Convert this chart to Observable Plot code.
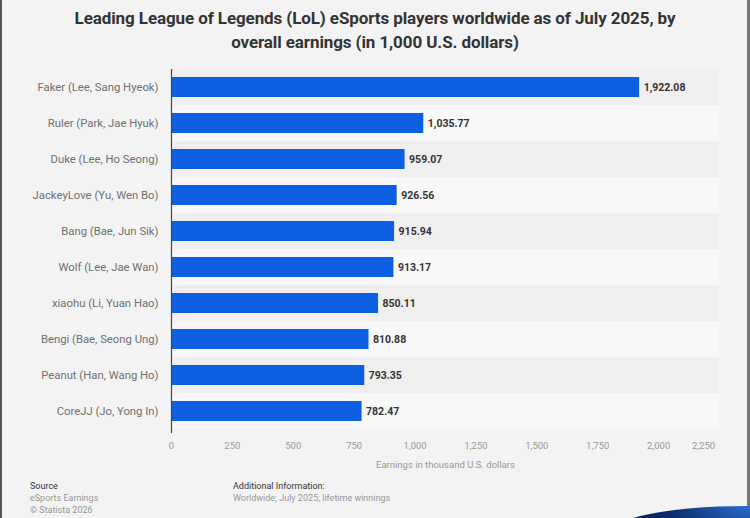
<!DOCTYPE html>
<html>
<head>
<meta charset="utf-8">
<script src="https://cdn.jsdelivr.net/npm/d3@7"></script>
<script src="https://cdn.jsdelivr.net/npm/@observablehq/plot@0.6"></script>
<style>
  html, body { margin: 0; padding: 0; }
  body { width: 750px; height: 518px; background: #f3f3f3; position: relative; overflow: hidden; font-family: Roboto, "Liberation Sans", sans-serif; }
  #frameL { position: absolute; left: 0; top: 0; width: 2px; height: 518px; background: #555; }
  #frameR { position: absolute; left: 747px; top: 0; width: 3px; height: 518px; background: #777; }
  #title { position: absolute; left: 0; top: 6px; width: 750px; text-align: center; font-size: 17px; font-weight: bold; color: #333; line-height: 24px; letter-spacing: -0.1px; }
  #chart { position: absolute; left: 0; top: 60px; }
  .foot { position: absolute; font-size: 9px; line-height: 12px; color: #999; }
  .foot b { color: #333; font-weight: normal; }
  #deco { position: absolute; left: 605px; top: 506px; width: 240px; height: 60px; background: radial-gradient(ellipse at 60% 0%, #2a6fd0 0%, #0b2a6a 40%, #061a45 100%); border-top-left-radius: 140px 30px; }
</style>
</head>
<body>
<div id="frameL"></div>
<div id="frameR"></div>
<div id="title">Leading League of Legends (LoL) eSports players worldwide as of July 2025, by<br>overall earnings (in 1,000 U.S. dollars)</div>
<div id="chart"></div>
<div class="foot" style="left:30px; top:480px;"><b>Source</b><br>eSports Earnings<br>© Statista 2026</div>
<div class="foot" style="left:233px; top:480px;"><b>Additional Information:</b><br>Worldwide; July 2025; lifetime winnings</div>
<div id="deco"></div>
<script>
const players = [
  "Faker (Lee, Sang Hyeok)",
  "Ruler (Park, Jae Hyuk)",
  "Duke (Lee, Ho Seong)",
  "JackeyLove (Yu, Wen Bo)",
  "Bang (Bae, Jun Sik)",
  "Wolf (Lee, Jae Wan)",
  "xiaohu (Li, Yuan Hao)",
  "Bengi (Bae, Seong Ung)",
  "Peanut (Han, Wang Ho)",
  "CoreJJ (Jo, Yong In)"
];
const earnings = [1922.08, 1035.77, 959.07, 926.56, 915.94, 913.17, 850.11, 810.88, 793.35, 782.47];
const xTicks = [0, 250, 500, 750, 1000, 1250, 1500, 1750, 2000, 2250];
const xMax = 2250;
const xLabel = "Earnings in thousand U.S. dollars";

const data = players.map((name, i) => ({name, value: earnings[i], i}));

const height = 412, marginTop = 9, marginBottom = 43;
const step = (height - marginTop - marginBottom) / (players.length);
const padInner = 0.44;
const inset = -(step * padInner) / 2;

const fmt = d3.format(",.2f");
const tfmt = d3.format(",");

const chart = Plot.plot({
  width: 750,
  height,
  marginLeft: 171,
  marginRight: 31,
  marginTop,
  marginBottom,
  style: { background: "transparent", fontFamily: "Roboto, 'Liberation Sans', sans-serif", overflow: "visible" },
  x: { domain: [0, xMax], axis: null },
  y: { domain: players, paddingInner: padInner, paddingOuter: padInner / 2, axis: null },
  marks: [
    Plot.barX(data, { x1: 0, x2: xMax, y: "name", fill: d => d.i % 2 === 0 ? "#efefef" : "#f8f8f8", insetTop: inset, insetBottom: inset }),
    Plot.ruleX(xTicks.slice(1), { stroke: "#e2e2e2", strokeWidth: 1, y1: players[0], y2: players[players.length - 1], insetTop: inset, insetBottom: inset }),
    Plot.barX(data, { x: "value", y: "name", fill: "#0b5fe0" }),
    Plot.text(data, { x: "value", y: "name", text: d => fmt(d.value), textAnchor: "start", dx: 4, fontWeight: "bold", fontSize: 10.5, fill: "#333" }),
    Plot.axisY({ tickSize: 0, tickPadding: 13, fontSize: 11.3, color: "#707070", label: null }),
    Plot.axisX({ ticks: xTicks.slice(0, -1), tickSize: 0, tickPadding: 13, fontSize: 9.5, color: "#9a9a9a", tickFormat: tfmt, label: null }),
    Plot.axisX({ ticks: xTicks.slice(-1), tickSize: 0, tickPadding: 13, fontSize: 9.5, color: "#9a9a9a", tickFormat: tfmt, label: null, dx: -16 }),
    Plot.ruleX([0], { stroke: "#444", strokeWidth: 1.2, insetBottom: -4 }),
    Plot.text([xLabel], { frameAnchor: "bottom", dy: 38, fontSize: 9.5, fill: "#9a9a9a" })
  ]
});
document.getElementById("chart").appendChild(chart);
</script>
</body>
</html>
